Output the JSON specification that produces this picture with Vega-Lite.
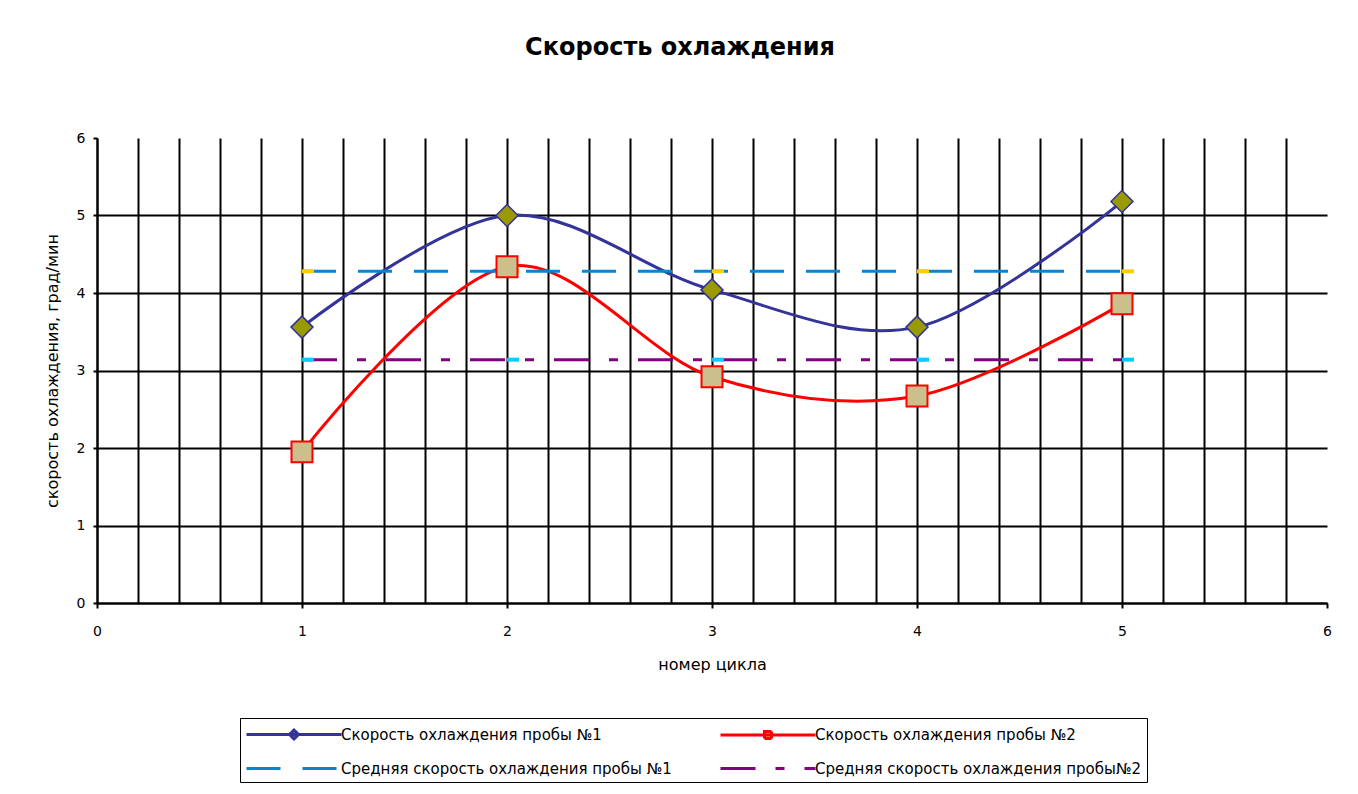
{
  "$schema": "https://vega.github.io/schema/vega-lite/v6.json",
  "width": 1230,
  "height": 465,
  "autosize": {"type": "none"},
  "padding": {"left": 97, "top": 138, "right": 31, "bottom": 191},
  "background": "white",
  "title": {
    "text": "Скорость охлаждения",
    "font": "DejaVu Sans",
    "fontSize": 24,
    "fontWeight": "bold",
    "color": "black",
    "anchor": "middle",
    "frame": "group",
    "baseline": "alphabetic",
    "dx": -32,
    "offset": 52
  },
  "config": {
    "view": {"stroke": null},
    "axis": {
      "labelFont": "DejaVu Sans",
      "labelFontSize": 14,
      "labelColor": "black",
      "titleFont": "DejaVu Sans",
      "titleFontSize": 16,
      "titleFontWeight": "normal",
      "titleColor": "black",
      "domainColor": "black",
      "domainWidth": 2,
      "tickWidth": 2,
      "gridWidth": 2,
      "gridOpacity": 1,
      "labelOverlap": false,
      "labelFlush": false
    }
  },
  "data": {
    "values": [
      {"series": "Скорость охлаждения пробы №1", "x": 1, "y": 3.56},
      {"series": "Скорость охлаждения пробы №1", "x": 2, "y": 5.0},
      {"series": "Скорость охлаждения пробы №1", "x": 3, "y": 4.04},
      {"series": "Скорость охлаждения пробы №1", "x": 4, "y": 3.56},
      {"series": "Скорость охлаждения пробы №1", "x": 5, "y": 5.18},
      {"series": "Скорость охлаждения пробы №2", "x": 1, "y": 1.95},
      {"series": "Скорость охлаждения пробы №2", "x": 2, "y": 4.34},
      {"series": "Скорость охлаждения пробы №2", "x": 3, "y": 2.92},
      {"series": "Скорость охлаждения пробы №2", "x": 4, "y": 2.67},
      {"series": "Скорость охлаждения пробы №2", "x": 5, "y": 3.86},
      {"series": "Средняя скорость охлаждения пробы №1", "x": 1, "y": 4.28},
      {"series": "Средняя скорость охлаждения пробы №1", "x": 2, "y": 4.28},
      {"series": "Средняя скорость охлаждения пробы №1", "x": 3, "y": 4.28},
      {"series": "Средняя скорость охлаждения пробы №1", "x": 4, "y": 4.28},
      {"series": "Средняя скорость охлаждения пробы №1", "x": 5, "y": 4.28},
      {"series": "Средняя скорость охлаждения пробы№2", "x": 1, "y": 3.14},
      {"series": "Средняя скорость охлаждения пробы№2", "x": 2, "y": 3.14},
      {"series": "Средняя скорость охлаждения пробы№2", "x": 3, "y": 3.14},
      {"series": "Средняя скорость охлаждения пробы№2", "x": 4, "y": 3.14},
      {"series": "Средняя скорость охлаждения пробы№2", "x": 5, "y": 3.14}
    ]
  },
  "encoding": {
    "x": {
      "field": "x",
      "type": "quantitative",
      "scale": {"domain": [0, 6], "nice": false, "zero": false},
      "axis": {
        "title": "номер цикла",
        "values": [0, 0.2, 0.4, 0.6, 0.8, 1, 1.2, 1.4, 1.6, 1.8, 2, 2.2, 2.4, 2.6, 2.8, 3, 3.2, 3.4, 3.6, 3.8, 4, 4.2, 4.4, 4.6, 4.8, 5, 5.2, 5.4, 5.6, 5.8, 6],
        "labelExpr": "abs(datum.value - round(datum.value)) < 0.01 ? format(datum.value, 'd') : ''",
        "tickColor": {"condition": {"test": "abs(datum.value - round(datum.value)) > 0.01", "value": "transparent"}, "value": "black"},
        "gridColor": {"condition": {"test": "datum.value > 5.99", "value": "transparent"}, "value": "black"},
        "grid": true,
        "tickSize": 5,
        "labelPadding": 16,
        "titlePadding": 18
      }
    },
    "y": {
      "field": "y",
      "type": "quantitative",
      "scale": {"domain": [0, 6], "nice": false},
      "axis": {
        "title": "скорость охлаждения, град/мин",
        "values": [0, 1, 2, 3, 4, 5, 6],
        "gridColor": {"condition": {"test": "datum.value > 5.99", "value": "transparent"}, "value": "black"},
        "tickColor": "black",
        "grid": true,
        "tickSize": 4,
        "labelPadding": 8,
        "titlePadding": 16
      }
    }
  },
  "layer": [
    {
      "transform": [{"filter": "indexof(datum.series, 'Средняя') < 0"}],
      "mark": {"type": "line", "interpolate": "cardinal", "tension": 0, "strokeWidth": 3},
      "encoding": {
        "stroke": {
          "field": "series",
          "type": "nominal",
          "scale": {
            "domain": ["Скорость охлаждения пробы №1", "Скорость охлаждения пробы №2", "Средняя скорость охлаждения пробы №1", "Средняя скорость охлаждения пробы№2"],
            "range": ["#333399", "#FF0000", "#0A84CC", "#800080"]
          }
        }
      }
    },
    {
      "transform": [{"filter": "indexof(datum.series, 'Средняя') >= 0"}],
      "mark": {"type": "line", "strokeWidth": 3},
      "encoding": {
        "stroke": {"field": "series", "type": "nominal"},
        "strokeDash": {
          "field": "series",
          "type": "nominal",
          "scale": {
            "domain": ["Скорость охлаждения пробы №1", "Скорость охлаждения пробы №2", "Средняя скорость охлаждения пробы №1", "Средняя скорость охлаждения пробы№2"],
            "range": [[1, 0], [1, 0], [34, 22], [35, 20, 9, 20]]
          }
        }
      }
    },
    {
      "transform": [{"filter": "datum.series == 'Средняя скорость охлаждения пробы №1'"}],
      "mark": {"type": "point", "shape": "M0,-0.33H2V0.33H0Z", "size": 144, "filled": true, "fill": "#FFCC00", "strokeWidth": 0, "opacity": 1}
    },
    {
      "transform": [{"filter": "datum.series == 'Средняя скорость охлаждения пробы№2'"}],
      "mark": {"type": "point", "shape": "M0,-0.33H2V0.33H0Z", "size": 144, "filled": true, "fill": "#00CCFF", "strokeWidth": 0, "opacity": 1}
    },
    {
      "transform": [{"filter": "datum.series == 'Скорость охлаждения пробы №1'"}],
      "mark": {"type": "point", "shape": "diamond", "size": 484, "filled": true, "fill": "#999900", "stroke": "#333399", "strokeWidth": 1.5, "opacity": 1}
    },
    {
      "transform": [{"filter": "datum.series == 'Скорость охлаждения пробы №2'"}],
      "mark": {"type": "point", "shape": "square", "size": 440, "filled": true, "fill": "#CBBF8C", "stroke": "#FF0000", "strokeWidth": 2, "opacity": 1}
    },
    {
      "mark": {"type": "point", "filled": true, "opacity": 0},
      "encoding": {
        "stroke": {
          "field": "series",
          "type": "nominal",
          "legend": {
            "title": null,
            "orient": "none",
            "direction": "horizontal",
            "legendX": 143,
            "legendY": 580,
            "columns": 2,
            "symbolSize": 400,
            "symbolStrokeWidth": 3,
            "symbolOpacity": 1,
            "labelFont": "DejaVu Sans",
            "labelFontSize": 15,
            "labelColor": "black",
            "labelLimit": 700,
            "labelOffset": 73,
            "rowPadding": 12,
            "columnPadding": 42,
            "padding": 5,
            "strokeColor": "black",
            "fillColor": "white"
          }
        },
        "fill": {
          "field": "series",
          "type": "nominal",
          "scale": {
            "domain": ["Скорость охлаждения пробы №1", "Скорость охлаждения пробы №2", "Средняя скорость охлаждения пробы №1", "Средняя скорость охлаждения пробы№2"],
            "range": ["#999900", "#CBBF8C", "#FFCC00", "#00CCFF"]
          }
        },
        "shape": {
          "field": "series",
          "type": "nominal",
          "scale": {
            "domain": ["Скорость охлаждения пробы №1", "Скорость охлаждения пробы №2", "Средняя скорость охлаждения пробы №1", "Средняя скорость охлаждения пробы№2"],
            "range": [
              "M-1,0H8.5M3.75,-0.45L4.2,0L3.75,0.45L3.3,0Z",
              "M-1,0H8.5M3.4,-0.35H4.1V0.35H3.4Z",
              "M-1,0H8.5",
              "M-1,0H8.5"
            ]
          }
        },
        "strokeDash": {"field": "series", "type": "nominal"}
      }
    }
  ]
}
